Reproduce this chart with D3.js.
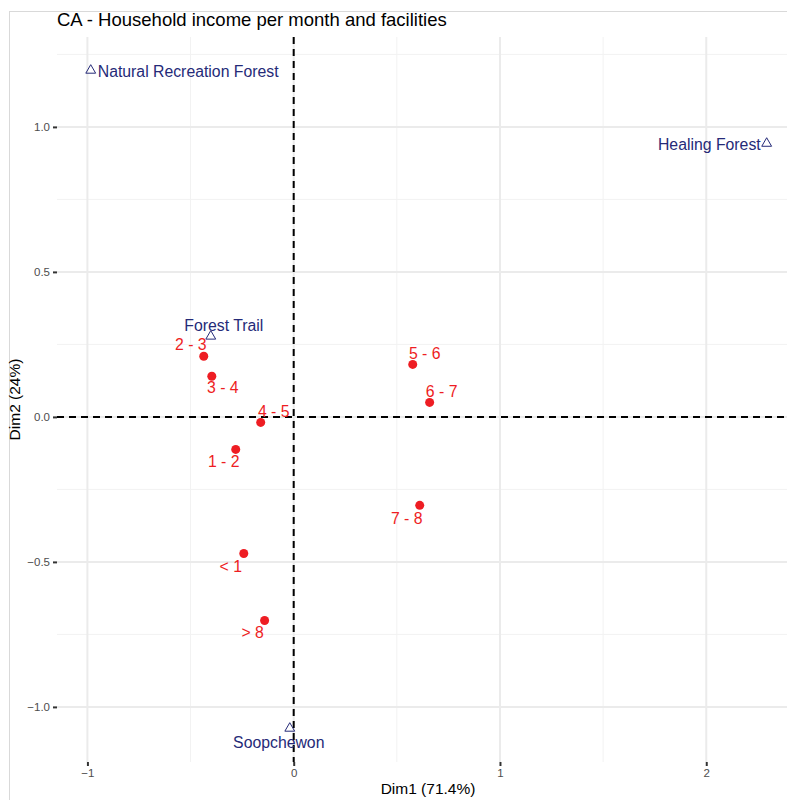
<!DOCTYPE html>
<html>
<head>
<meta charset="utf-8">
<script src="https://cdn.jsdelivr.net/npm/d3@7"></script>
<style>
  body { margin: 0; background: #fff; }
  text { font-family: "Liberation Sans", Arial, sans-serif; }
</style>
</head>
<body>
<svg id="chart" width="787" height="800"></svg>
<script>
// income classes (rows)
const rowLabels = ["< 1", "1 - 2", "2 - 3", "3 - 4", "4 - 5", "5 - 6", "6 - 7", "7 - 8", "> 8"]
const rowDim1 = [-0.242, -0.281, -0.436, -0.397, -0.160, 0.577, 0.659, 0.611, -0.141]
const rowDim2 = [-0.471, -0.112, 0.209, 0.140, -0.019, 0.181, 0.050, -0.305, -0.702]

// facilities (columns)
const colLabels = ["Natural Recreation Forest", "Forest Trail", "Healing Forest", "Soopchewon"]
const colDim1 = [-0.984, -0.402, 2.293, -0.019]
const colDim2 = [1.195, 0.278, 0.943, -1.074]

const xTicks = [-1, 0, 1, 2]
const yTicks = [-1.0, -0.5, 0.0, 0.5, 1.0]

// label placement (repelled by hand), px
const rowNudge = [[-13, 13], [-12, 12], [-13, -12], [11, 11], [13, -11], [12, -11], [12, -11], [-13, 13], [-12, 12]]
const colNudge = [[7, 1, "start"], [13, -11, "middle"], [-6, 1, "end"], [-11, 14, "middle"]]

const W = 787, H = 800
const mLeft = 57, mRight = 787, mTop = 37, mBottom = 762

const svg = d3.select("#chart")

const x = d3.scaleLinear().domain([-1.1475, 2.3915]).range([mLeft, mRight])
const y = d3.scaleLinear().domain([-1.19, 1.31]).range([mBottom, mTop])

// outer frame
svg.append("rect")
    .attr("x", 9.5).attr("y", 11.5)
    .attr("width", W + 10).attr("height", H + 10)
    .attr("fill", "none")
    .attr("stroke", "#d9d9d9")

const panel = svg.append("g")

// grid
const xMinor = d3.range(-1.5, 2.6, 1)
const yMinor = d3.range(-1.25, 1.3, 0.5)
panel.selectAll("line.xminor").data(xMinor.filter(v => x(v) > mLeft && x(v) < mRight))
  .join("line")
    .attr("x1", d => x(d)).attr("x2", d => x(d))
    .attr("y1", mTop).attr("y2", mBottom)
    .attr("stroke", "#f2f2f2").attr("stroke-width", 1)
panel.selectAll("line.yminor").data(yMinor.filter(v => y(v) > mTop && y(v) < mBottom))
  .join("line")
    .attr("y1", d => y(d)).attr("y2", d => y(d))
    .attr("x1", mLeft).attr("x2", mRight)
    .attr("stroke", "#f2f2f2").attr("stroke-width", 1)
panel.selectAll("line.xmajor").data(xTicks)
  .join("line")
    .attr("x1", d => x(d)).attr("x2", d => x(d))
    .attr("y1", mTop).attr("y2", mBottom)
    .attr("stroke", "#ebebeb").attr("stroke-width", 2)
panel.selectAll("line.ymajor").data(yTicks)
  .join("line")
    .attr("y1", d => y(d)).attr("y2", d => y(d))
    .attr("x1", mLeft).attr("x2", mRight)
    .attr("stroke", "#ebebeb").attr("stroke-width", 2)

// axes
const xAxis = svg.append("g")
    .attr("transform", `translate(0,${mBottom})`)
    .call(d3.axisBottom(x).tickValues(xTicks).tickFormat(d3.format("d")).tickSize(4).tickPadding(3))
const yAxis = svg.append("g")
    .attr("transform", `translate(${mLeft},0)`)
    .call(d3.axisLeft(y).tickValues(yTicks).tickFormat(d3.format(".1f")).tickSize(4).tickPadding(3))
;[xAxis, yAxis].forEach(a => {
  a.select(".domain").remove()
  a.selectAll(".tick line").attr("stroke", "#333").attr("stroke-width", 2)
  a.selectAll(".tick text").attr("fill", "#4d4d4d").attr("font-size", 11.5)
})

// origin lines
svg.append("line")
    .attr("x1", mLeft).attr("x2", mRight)
    .attr("y1", y(0)).attr("y2", y(0))
    .attr("stroke", "#000").attr("stroke-width", 2).attr("stroke-dasharray", "7,5")
svg.append("line")
    .attr("x1", x(0)).attr("x2", x(0))
    .attr("y1", mTop).attr("y2", mBottom)
    .attr("stroke", "#000").attr("stroke-width", 2).attr("stroke-dasharray", "7,5")

// rows
const rows = rowLabels.map((l, i) => ({ label: l, d1: rowDim1[i], d2: rowDim2[i], nudge: rowNudge[i] }))
const rowColor = "#ee1d23"
svg.append("g").selectAll("circle").data(rows)
  .join("circle")
    .attr("cx", d => x(d.d1)).attr("cy", d => y(d.d2))
    .attr("r", 4.5)
    .attr("fill", rowColor)
svg.append("g").selectAll("text").data(rows)
  .join("text")
    .attr("x", d => x(d.d1) + d.nudge[0])
    .attr("y", d => y(d.d2) + d.nudge[1])
    .attr("text-anchor", "middle")
    .attr("dominant-baseline", "central")
    .attr("font-size", 15.8)
    .attr("fill", rowColor)
    .text(d => d.label)

// columns
const cols = colLabels.map((l, i) => ({ label: l, d1: colDim1[i], d2: colDim2[i], nudge: colNudge[i] }))
const colColor = "#252a78"
const tri = d3.symbol().type(d3.symbolTriangle).size(42)
svg.append("g").selectAll("path").data(cols)
  .join("path")
    .attr("transform", d => `translate(${x(d.d1)},${y(d.d2)})`)
    .attr("d", tri)
    .attr("fill", "none")
    .attr("stroke", colColor)
    .attr("stroke-width", 1)
svg.append("g").selectAll("text").data(cols)
  .join("text")
    .attr("x", d => x(d.d1) + d.nudge[0])
    .attr("y", d => y(d.d2) + d.nudge[1])
    .attr("text-anchor", d => d.nudge[2])
    .attr("dominant-baseline", "central")
    .attr("font-size", 15.8)
    .attr("fill", colColor)
    .text(d => d.label)

// titles
svg.append("text")
    .attr("x", mLeft).attr("y", 26)
    .attr("font-size", 18.5)
    .attr("fill", "#000")
    .text("CA - Household income per month and facilities")
svg.append("text")
    .attr("x", (mLeft + mRight) / 2 + 6).attr("y", 794)
    .attr("text-anchor", "middle")
    .attr("font-size", 15.5)
    .attr("fill", "#000")
    .text("Dim1 (71.4%)")
svg.append("text")
    .attr("transform", `translate(20,${(mTop + mBottom) / 2}) rotate(-90)`)
    .attr("text-anchor", "middle")
    .attr("font-size", 15.5)
    .attr("fill", "#000")
    .text("Dim2 (24%)")
</script>
</body>
</html>
